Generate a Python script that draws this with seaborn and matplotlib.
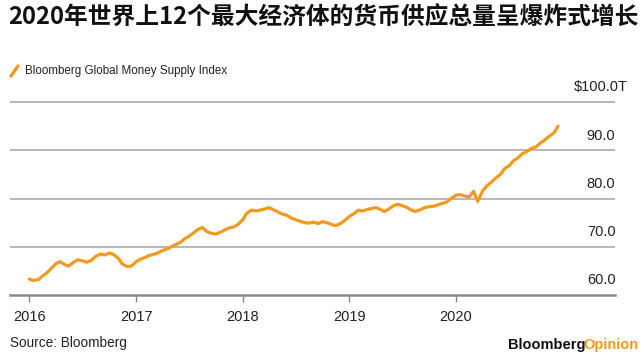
import pandas as pd
import matplotlib
matplotlib.use('Agg')
import matplotlib.pyplot as plt
import seaborn as sns
from matplotlib.lines import Line2D

title = '2020年世界上12个最大经济体的货币供应总量呈爆炸式增长'
series_name = 'Bloomberg Global Money Supply Index'
source = 'Source: Bloomberg'

# semi-monthly readings (1st and 15th of each month), trillions USD
v2016 = [63.3, 63.0, 63.2, 63.9, 64.6, 65.4, 66.5, 66.9, 66.3, 66.0, 66.8, 67.3,
         67.1, 66.8, 67.2, 68.0, 68.5, 68.3, 68.7, 68.4, 67.6, 66.4, 65.9, 66.0]
v2017 = [66.9, 67.4, 67.8, 68.2, 68.4, 68.7, 69.2, 69.5, 70.0, 70.4, 70.9, 71.6,
         72.2, 72.8, 73.6, 74.0, 73.1, 72.8, 72.6, 73.0, 73.5, 73.9, 74.1, 74.6]
v2018 = [75.6, 77.0, 77.6, 77.4, 77.6, 77.8, 78.1, 77.7, 77.2, 76.8, 76.5, 76.0,
         75.6, 75.3, 75.0, 74.9, 75.1, 74.8, 75.2, 75.0, 74.6, 74.4, 74.8, 75.4]
v2019 = [76.3, 76.8, 77.6, 77.4, 77.7, 77.9, 78.1, 77.8, 77.3, 77.8, 78.5, 78.8,
         78.5, 78.2, 77.6, 77.3, 77.7, 78.1, 78.3, 78.4, 78.7, 79.0, 79.3, 80.0]
v2020 = [80.7, 80.8, 80.5, 80.3, 81.5, 79.4, 81.6, 82.6, 83.4, 84.2, 85.0, 86.2,
         86.8, 87.8, 88.5, 89.3, 89.8, 90.4, 90.7, 91.5, 92.2, 92.9, 93.6, 95.0]

years = [2016, 2017, 2018, 2019, 2020]
ytick_values = [60, 70, 80, 90, 100]
ytick_labels = ['60.0', '70.0', '80.0', '90.0', '$100.0T']

values = v2016 + v2017 + v2018 + v2019 + v2020
dates = []
for y in years:
    for m in range(1, 13):
        dates.append(pd.Timestamp(y, m, 1))
        dates.append(pd.Timestamp(y, m, 15))
df = pd.DataFrame({'date': dates, 'value': values})

orange = '#F29A1E'

sns.set_style('white')
plt.rcParams['font.family'] = ['Liberation Sans', 'DejaVu Sans']

fig = plt.figure(figsize=(6.43, 3.61), dpi=100)
ax = fig.add_axes([10 / 643, 66 / 361, 605 / 643, 197.8 / 361])

sns.lineplot(data=df, x='date', y='value', ax=ax, color=orange, linewidth=2.3)

ax.set_xlim(pd.Timestamp('2015-10-27'), pd.Timestamp('2021-06-28'))
ax.set_ylim(60, 101)

for v in ytick_values[1:]:
    ax.axhline(v, color='#b8b8b8', linewidth=1.4, zorder=0)
for v, lab in zip(ytick_values, ytick_labels):
    ax.text(0.977, v + 1.6, lab, transform=ax.get_yaxis_transform(),
            ha='center', va='bottom', fontsize=10.5, color='#222222')

for s in ['top', 'right', 'left']:
    ax.spines[s].set_visible(False)
ax.spines['bottom'].set_color('#8a8a8a')
ax.spines['bottom'].set_linewidth(1.8)

ax.set_yticks([])
ax.set_xticks([pd.Timestamp(y, 1, 1) for y in years])
ax.set_xticklabels([str(y) for y in years], fontsize=10.5, color='#222222')
ax.tick_params(axis='x', direction='out', length=5, width=1, color='#8a8a8a', pad=6,
               bottom=True)
ax.set_xlabel('')
ax.set_ylabel('')

fig.text(8 / 643, 1 - 18 / 361, title, fontsize=17.1, fontweight='bold',
         family=['Noto Sans CJK SC', 'DejaVu Sans'], ha='left', va='center', color='#111111')

fig.add_artist(Line2D([11 / 643, 18 / 643], [1 - 76 / 361, 1 - 66 / 361],
                      color=orange, linewidth=2.4, transform=fig.transFigure))
fig.text(25 / 643, 1 - 71 / 361, series_name, fontsize=8.4, ha='left', va='center',
         color='#222222')

fig.text(10 / 643, 1 - 343 / 361, source, fontsize=9.8, ha='left', va='center', color='#222222')

op = fig.text(638 / 643, 1 - 345 / 361, 'Opinion', fontsize=10.5, fontweight='bold',
              ha='right', va='center', color=orange)
fig.canvas.draw()
bb = op.get_window_extent(renderer=fig.canvas.get_renderer())
fig.text((bb.x0 + 3) / fig.bbox.width, 1 - 345 / 361, 'Bloomberg', fontsize=10.5,
         fontweight='bold', ha='right', va='center', color='#111111')

fig.savefig('out.png', dpi=100)
